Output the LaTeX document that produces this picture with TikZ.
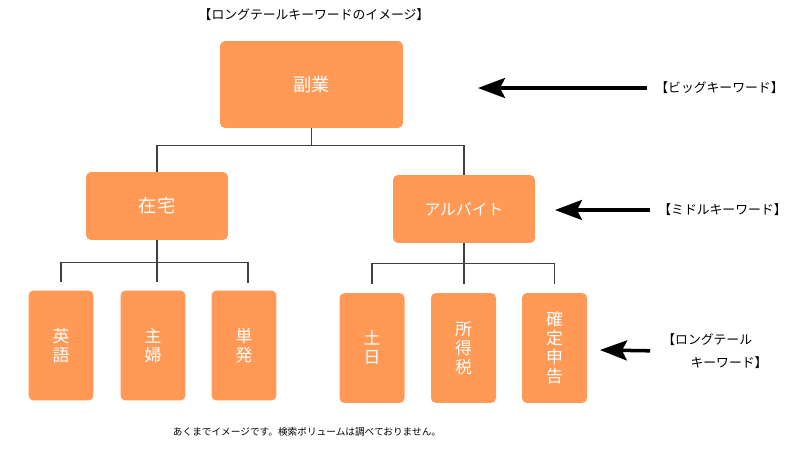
\documentclass[tikz,border=0pt]{standalone}
\usepackage{fontspec}
\setmainfont{Noto Sans CJK JP}
\usetikzlibrary{arrows.meta}
\definecolor{keyorange}{HTML}{FF9955}
\tikzset{
keybox/.style={fill=keyorange, rounded corners=0.1cm, text=white, inner sep=0pt, align=center},
tallbox/.style={keybox, minimum width=1.3cm, minimum height=2.2cm, font=\fontsize{9.6}{10.8}\selectfont},
tree/.style={draw=black!75, line width=0.6pt},
keyarrow/.style={line width=2pt, -{Stealth[length=0.54cm,width=0.4cm,inset=0.1cm]}},
kwlabel/.style={anchor=west, inner sep=0pt, font=\fontsize{7.3}{13}\selectfont, align=left}
}
\begin{document}
\begin{tikzpicture}[x=0.02cm, y=-0.02cm]
\useasboundingbox (0,0) rectangle (800,450);
\node[inner sep=0pt, font=\fontsize{7.3}{9}\selectfont] (title) at (314,15) {【ロングテールキーワードのイメージ】};
\node[keybox, minimum width=3.66cm, minimum height=1.74cm, font=\fontsize{10.4}{12}\selectfont] (fukugyo) at (311.5,84.5) {副業};
\node[keybox, minimum width=2.84cm, minimum height=1.36cm, font=\fontsize{10.4}{12}\selectfont] (zaitaku) at (157,206) {在宅};
\node[keybox, minimum width=2.84cm, minimum height=1.36cm, font=\fontsize{9}{12}\selectfont] (arubaito) at (464,209) {アルバイト};
\foreach \n/\x/\y/\t in {eigo/61/345.5/英\\語, shufu/153/345.5/主\\婦, tanpatsu/244/345.5/単\\発,
dosei/372/348/土\\日, shotoku/463.5/348/所\\得\\税, kakutei/554.5/348/確\\定\\申\\告}
\node[tallbox] (\n) at (\x,\y) {\t};
\draw[tree] (fukugyo.south) -- ++(0,17) coordinate (j1);
\draw[tree] (zaitaku.north) |- (j1) -| (arubaito.north);
\draw[tree] (zaitaku.south) -- ++(0,22) coordinate (j2);
\draw[tree, shorten <=0.16cm, shorten >=0.14cm] (eigo.north) |- (j2) -| ([xshift=0.08cm]tanpatsu.north);
\draw[tree, shorten >=0.16cm] (j2) -- (j2 |- shufu.north);
\draw[tree] (arubaito.south) -- ++(0,20) coordinate (j3);
\draw[tree, shorten <=0.18cm, shorten >=0.18cm] (dosei.north) |- (j3) -| (kakutei.north);
\draw[tree, shorten >=0.18cm] (j3) -- (j3 |- shotoku.north);
\node[kwlabel] (bigkw) at (655,88) {【ビッグキーワード】};
\node[kwlabel] (midkw) at (658,210) {【ミドルキーワード】};
\node[kwlabel] (longkw) at (662,351) {【ロングテール\\\hspace{2.2em}キーワード】};
\coordinate (bigtip) at (478,88);
\coordinate (midtip) at (555,210);
\coordinate (longtip) at (600,350);
\draw[keyarrow, shorten <=0.16cm] (bigkw.west) -- (bigtip);
\draw[keyarrow, shorten <=0.16cm] (midkw.west) -- (midtip);
\draw[keyarrow, shorten <=0.24cm] (longkw.west) -- (longtip);
\node[inner sep=0pt, font=\fontsize{5.5}{7}\selectfont] (note) at (307,432) {あくまでイメージです。検索ボリュームは調べておりません。};
\end{tikzpicture}
\end{document}
